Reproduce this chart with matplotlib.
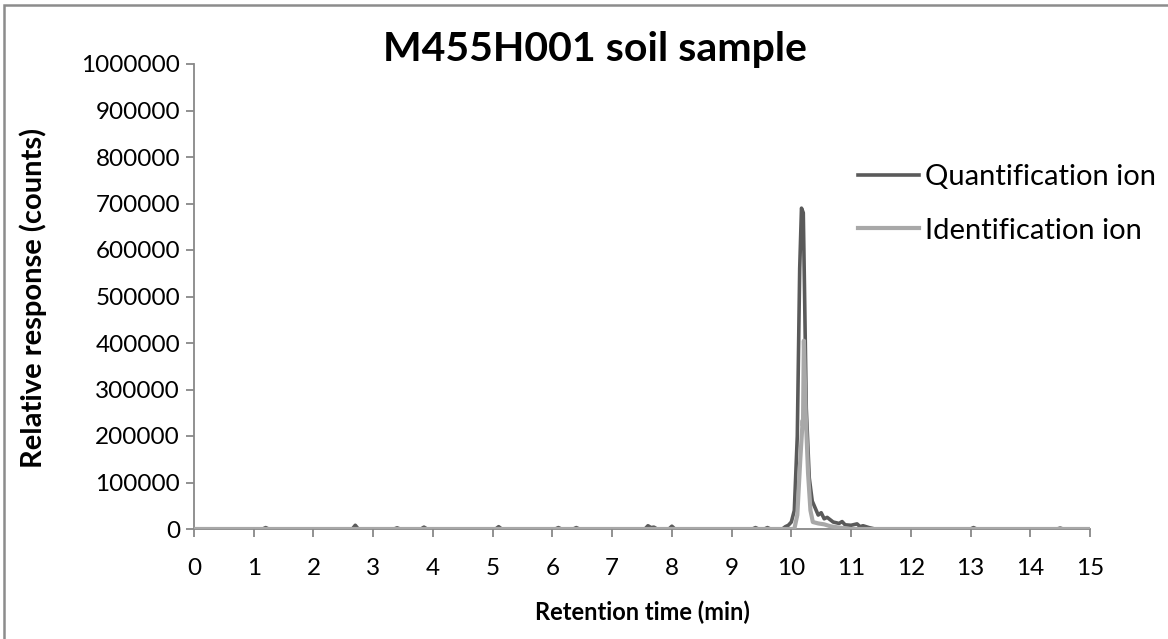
import matplotlib
matplotlib.use("Agg")
import matplotlib.pyplot as plt
from matplotlib.patches import Rectangle

plt.rcParams['font.family'] = ['Lato', 'DejaVu Sans']

# quantification ion (dark trace)
quant_time = [0.0, 1.15, 1.2, 1.25, 2.65, 2.7, 2.75, 3.35, 3.4, 3.45, 3.8, 3.85, 3.9,
              5.05, 5.1, 5.15, 6.05, 6.1, 6.15, 6.35, 6.4, 6.45, 7.55, 7.6, 7.65, 7.7, 7.75,
              7.95, 8.0, 8.05, 9.35, 9.4, 9.45, 9.55, 9.6, 9.65, 9.85, 9.9, 9.95, 10.0,
              10.05, 10.1, 10.14, 10.17, 10.2, 10.22, 10.25, 10.3, 10.35, 10.4, 10.45,
              10.5, 10.55, 10.6, 10.7, 10.8, 10.85, 10.9, 11.0, 11.1, 11.15, 11.2, 11.3,
              11.4, 13.0, 13.05, 13.1, 14.45, 14.5, 14.55, 15.0]
quant_vals = [0, 0, 3000, 0, 0, 8000, 0, 0, 2500, 0, 0, 4000, 0,
              0, 5000, 0, 0, 3000, 0, 0, 3000, 0, 0, 7000, 3000, 4000, 0,
              0, 6000, 0, 0, 3000, 0, 0, 3000, 0, 0, 5000, 8000, 15000,
              40000, 200000, 560000, 690000, 680000, 520000, 260000, 110000, 60000, 45000, 30000,
              35000, 22000, 25000, 15000, 12000, 16000, 9000, 8000, 11000, 5000, 7000, 3000,
              0, 0, 3000, 0, 0, 2000, 0, 0]

# identification ion (light trace)
ident_time = [0.0, 10.05, 10.1, 10.15, 10.19, 10.195, 10.21, 10.24, 10.28, 10.32, 10.36,
              10.45, 10.55, 10.65, 10.8, 11.0, 15.0]
ident_vals = [0, 0, 30000, 150000, 234000, 222000, 405000, 250000, 120000, 40000, 15000,
              12000, 10000, 6000, 3000, 0, 0]

x_ticks = list(range(0, 16))
y_ticks = list(range(0, 1000001, 100000))

fig = plt.figure(figsize=(11.68, 6.39), dpi=100)
ax = fig.add_axes([194 / 1168, 1 - 529 / 639, (1090 - 194) / 1168, (529 - 64) / 639])

ax.plot(quant_time, quant_vals, color='#5a5a5a', lw=2.6, label='Quantification ion', zorder=2)
ax.plot(ident_time, ident_vals, color='#a8a8a8', lw=3.0, label='Identification ion', zorder=3)

ax.set_xlim(0, 15)
ax.set_ylim(0, 1000000)
ax.set_xticks(x_ticks)
ax.set_yticks(y_ticks)
ax.set_yticklabels([str(v) for v in y_ticks])

for s in ['top', 'right']:
    ax.spines[s].set_visible(False)
for s in ['left', 'bottom']:
    ax.spines[s].set_color('#888888')
    ax.spines[s].set_linewidth(1.3)
ax.tick_params(axis='both', colors='#888888', labelcolor='black', labelsize=17.5,
               length=6, width=1.3, direction='out')
ax.tick_params(axis='x', pad=15)
ax.tick_params(axis='y', pad=4)

ax.set_xlabel('Retention time (min)', fontsize=17, fontweight='bold')
ax.set_ylabel('Relative response (counts)', fontsize=21, fontweight='bold')
ax.xaxis.set_label_coords(0.5, (529 - 612) / 465)
ax.xaxis.label.set_va('center')
ax.yaxis.set_label_coords((33 - 194) / 896, (529 - 298) / 465)
ax.yaxis.label.set_va('center')

fig.text(595 / 1168, 1 - 50 / 639, 'M455H001 soil sample', fontsize=29.5, fontweight='bold',
         ha='center', va='center')

ax.legend(loc='upper left', bbox_to_anchor=((858 - 194) / 896, (529 - 164) / 465),
          frameon=False, fontsize=21, handlelength=2.1, handletextpad=0.2,
          labelspacing=0.95, borderaxespad=0, borderpad=0)

fig.patches.append(Rectangle((4 / 1168, -0.05), 1.1, 0.05 + 1 - 5 / 639,
                             transform=fig.transFigure, fill=False,
                             edgecolor='#8c8c8c', lw=1.8))

fig.savefig('out.png', dpi=100)
